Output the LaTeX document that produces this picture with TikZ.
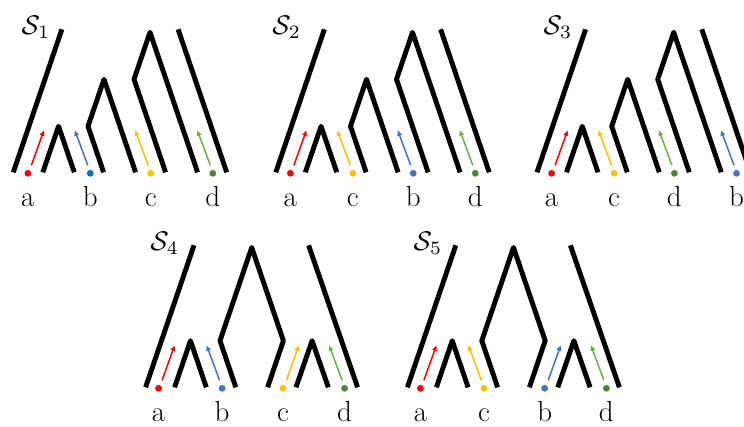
\documentclass[tikz,border=0pt]{standalone}
\usepackage{graphicx}
\usetikzlibrary{arrows.meta,calc}
\definecolor{cred}{RGB}{255,0,0}
\definecolor{cblue}{RGB}{68,114,196}
\definecolor{cbluedk}{RGB}{0,112,192}
\definecolor{cyel}{RGB}{255,192,0}
\definecolor{cgrn}{RGB}{112,173,71}
\definecolor{cgrndk}{RGB}{84,130,53}
\tikzset{
  branch/.style={line width=4.9pt, line join=round, line cap=butt},
  leafdot/.style={circle, fill=#1, inner sep=0pt, minimum size=6.8pt},
  mv/.style={draw=#1, line width=1.5pt, -{Triangle[length=5.5pt,width=4.5pt]}},
  lab/.style={anchor=base, inner sep=0pt, font=\fontsize{29}{34}\selectfont},
  sp/.style={anchor=base west, inner sep=0pt},
}
\newcommand{\spname}[1]{\scalebox{2.7}{$\mathcal{S}_{#1}$}}
% tree of the first row
\newcommand{\treeA}{%
  \draw[branch] (0,0) -- (48.6,-143);
  \draw[branch] (29.5,0) -- (45.25,-46) -- (61,0);
  \draw[branch] (90.3,0) -- (74.7,-46) -- (90.7,-93) -- (122.3,0);
  \draw[branch] (152.3,0) -- (120.7,-93) -- (136.7,-140) -- (184.3,0);
  \draw[branch] (164.8,-143) -- (213.4,0);
}
% tree of the second row
\newcommand{\treeB}{%
  \draw[branch] (0,0) -- (48.4,-142);
  \draw[branch] (29,0) -- (44.85,-46.6) -- (60.7,0);
  \draw[branch] (90.2,0) -- (74.4,-46.6) -- (106.1,-139.8) -- (137.8,-46.6) -- (122,0);
  \draw[branch] (150.4,0) -- (166.5,-46.6) -- (182.7,0);
  \draw[branch] (163,-142) -- (212,0);
}
% #1 name, #2 x, #3 letter, #4 dot colour, #5 arrow colour, #6 tail dx, #7 tip dx
\newcommand{\leafitem}[7]{%
  \node[leafdot=#4] (#1) at (#2,1) {};
  \node[lab] (#1l) at (#2,34.3) {#3};
  \draw[mv=#5] ($(#1)+(#6,-8)$) -- ($(#1)+(#7,-43)$);
}
\begin{document}
\begin{tikzpicture}[x=1pt,y=-1pt]
\useasboundingbox (0,0) rectangle (744,426);
% S1
\begin{scope}[shift={(13.3,172.3)}]
  \treeA
  \node[sp] (s1) at (8.2,-138) {\spname{1}};
  \leafitem{p1a}{14.6}{a}{cred}{cred}{3.5}{16}
  \leafitem{p1b}{77}{b}{cbluedk}{cblue}{-2.5}{-15.5}
  \leafitem{p1c}{137.4}{c}{cyel}{cyel}{-2.5}{-15.5}
  \leafitem{p1d}{199.5}{d}{cgrndk}{cgrn}{-2.5}{-15.5}
\end{scope}
% S2
\begin{scope}[shift={(275.8,172.3)}]
  \treeA
  \node[sp] (s2) at (-3.6,-138) {\spname{2}};
  \leafitem{p2a}{14.6}{a}{cred}{cred}{3.5}{16}
  \leafitem{p2c}{77}{c}{cyel}{cyel}{-2.5}{-15.5}
  \leafitem{p2b}{137.4}{b}{cblue}{cblue}{-2.5}{-15.5}
  \leafitem{p2d}{199.5}{d}{cgrndk}{cgrn}{-2.5}{-15.5}
\end{scope}
% S3
\begin{scope}[shift={(537,172.3)}]
  \treeA
  \node[sp] (s3) at (6.5,-138) {\spname{3}};
  \leafitem{p3a}{14.6}{a}{cred}{cred}{3.5}{16}
  \leafitem{p3c}{77}{c}{cyel}{cyel}{-2.5}{-15.5}
  \leafitem{p3d}{137.4}{d}{cgrndk}{cgrn}{-2.5}{-15.5}
  \leafitem{p3b}{199.5}{b}{cblue}{cblue}{-2.5}{-15.5}
\end{scope}
% S4
\begin{scope}[shift={(145.6,387.3)}]
  \treeB
  \node[sp] (s4) at (4.6,-137) {\spname{4}};
  \leafitem{p4a}{13}{a}{cred}{cred}{3.5}{16}
  \leafitem{p4b}{76.5}{b}{cblue}{cblue}{-2.5}{-15.5}
  \leafitem{p4c}{137.3}{c}{cyel}{cyel}{3.5}{16}
  \leafitem{p4d}{199}{d}{cgrndk}{cgrn}{-2.5}{-15.5}
\end{scope}
% S5
\begin{scope}[shift={(407.4,387.3)}]
  \treeB
  \node[sp] (s5) at (6.1,-137) {\spname{5}};
  \leafitem{p5a}{13}{a}{cred}{cred}{3.5}{16}
  \leafitem{p5c}{76.5}{c}{cyel}{cyel}{-2.5}{-15.5}
  \leafitem{p5b}{137.3}{b}{cblue}{cblue}{3.5}{16}
  \leafitem{p5d}{199}{d}{cgrndk}{cgrn}{-2.5}{-15.5}
\end{scope}
\end{tikzpicture}
\end{document}
